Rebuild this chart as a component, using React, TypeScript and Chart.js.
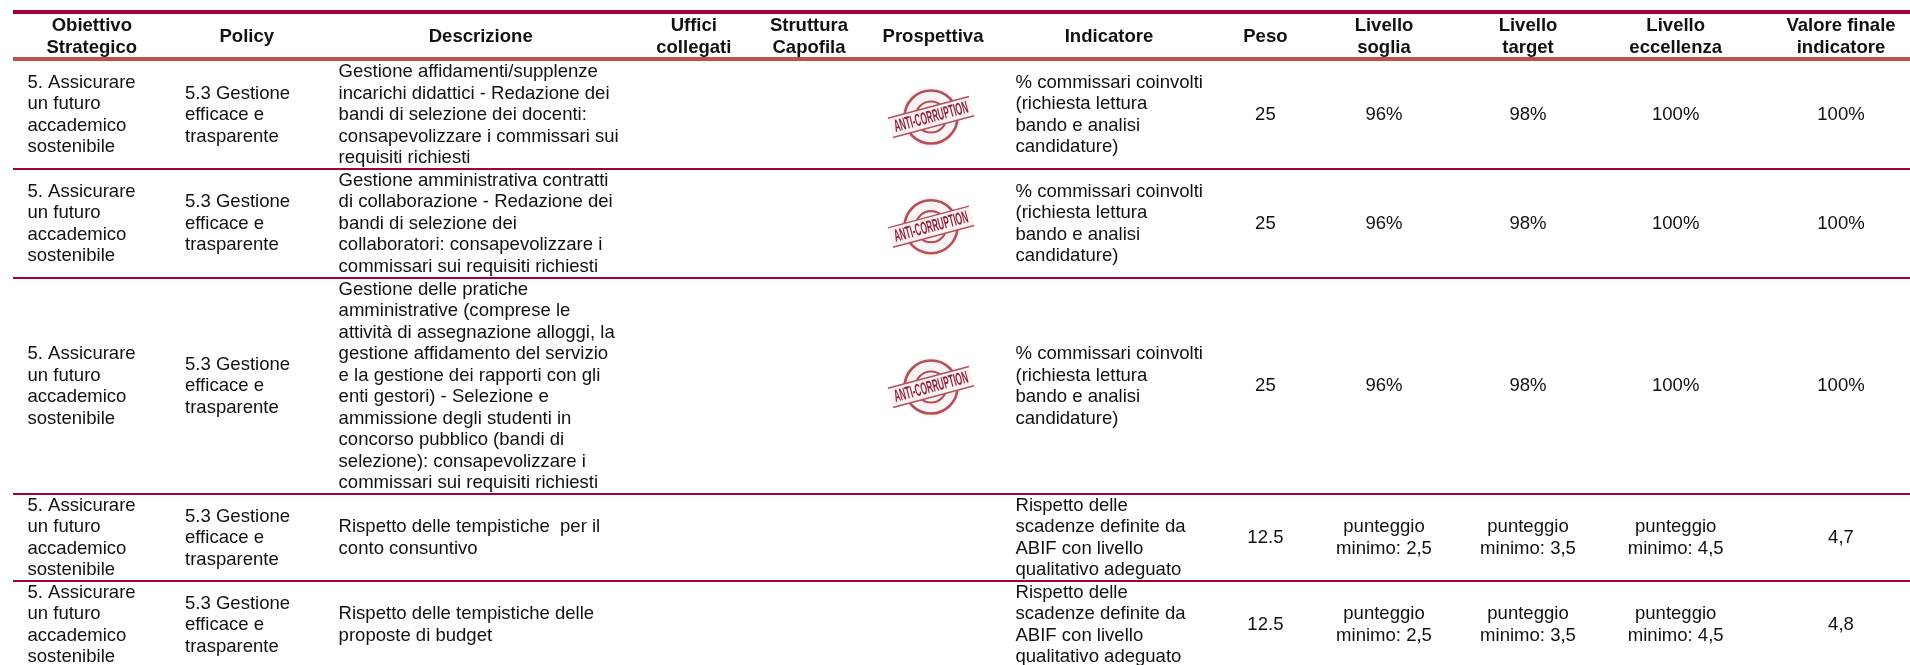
import React, { useEffect, useRef } from "react";
import { Chart, registerables } from "chart.js";

Chart.register(...registerables);

// ---- Table content ----
const headers = [
  "Obiettivo\nStrategico", "Policy", "Descrizione", "Uffici\ncollegati", "Struttura\nCapofila", "Prospettiva",
  "Indicatore", "Peso", "Livello\nsoglia", "Livello\ntarget", "Livello\neccellenza", "Valore finale\nindicatore",
];
const OBJ = "5. Assicurare\nun futuro\naccademico\nsostenibile";
const POL = "5.3 Gestione\nefficace e\ntrasparente";
const objectives = [OBJ, OBJ, OBJ, OBJ, OBJ];
const policies = [POL, POL, POL, POL, POL];
const descriptions = [
  "Gestione affidamenti/supplenze\nincarichi didattici - Redazione dei\nbandi di selezione dei docenti:\nconsapevolizzare i commissari sui\nrequisiti richiesti",
  "Gestione amministrativa contratti\ndi collaborazione - Redazione dei\nbandi di selezione dei\ncollaboratori: consapevolizzare i\ncommissari sui requisiti richiesti",
  "Gestione delle pratiche\namministrative (comprese le\nattività di assegnazione alloggi, la\ngestione affidamento del servizio\ne la gestione dei rapporti con gli\nenti gestori) - Selezione e\nammissione degli studenti in\nconcorso pubblico (bandi di\nselezione): consapevolizzare i\ncommissari sui requisiti richiesti",
  "Rispetto delle tempistiche  per il\nconto consuntivo",
  "Rispetto delle tempistiche delle\nproposte di budget",
];
const offices = ["", "", "", "", ""];
const leads = ["", "", "", "", ""];
const perspectives = ["ANTI-CORRUPTION", "ANTI-CORRUPTION", "ANTI-CORRUPTION", "", ""];
const IND_A = "% commissari coinvolti\n(richiesta lettura\nbando e analisi\ncandidature)";
const IND_B = "Rispetto delle\nscadenze definite da\nABIF con livello\nqualitativo adeguato";
const indicators = [IND_A, IND_A, IND_A, IND_B, IND_B];
const weights = ["25", "25", "25", "12.5", "12.5"];
const thresholds = ["96%", "96%", "96%", "punteggio\nminimo: 2,5", "punteggio\nminimo: 2,5"];
const targets = ["98%", "98%", "98%", "punteggio\nminimo: 3,5", "punteggio\nminimo: 3,5"];
const excellence = ["100%", "100%", "100%", "punteggio\nminimo: 4,5", "punteggio\nminimo: 4,5"];
const finals = ["100%", "100%", "100%", "4,7", "4,8"];

const bodyColumns = [objectives, policies, descriptions, offices, leads, perspectives, indicators, weights, thresholds, targets, excellence, finals];

// ---- Layout (axis units equal canvas pixels) ----
const HEADER_X = [91.8, 246.8, 480.7, 693.8, 809, 933, 1109, 1265.4, 1384, 1528, 1675.7, 1841];
const BODY_X = [27.5, 185, 338.6, 693.8, 809, 931, 1015.5, 1265.4, 1384, 1528, 1675.7, 1841];
const BODY_LEFT = [true, true, true, false, false, false, true, false, false, false, false, false];
const HEADER_Y = 37;
const ROW_Y = [115, 223.7, 386.3, 538, 625];
const STAMP_DY = [2, 3, 0.7, 0, 0];
const RULE_Y = [11.75, 59.25, 168.7, 277.7, 494, 580.8];
const RULE_W = [4, 4, 2, 2, 2, 2];
const RULE_C = ["#A50034", "#C0504D", "#A50034", "#A50034", "#A50034", "#A50034"];
const FONT = '"Liberation Sans", Arial, sans-serif';
const BODY_FONT = `18.55px ${FONT}`;
const HEAD_FONT = `bold 18.55px ${FONT}`;
const BODY_LH = 21.5;
const HEAD_LH = 22;
const INK = "#111";

function drawLines(ctx: CanvasRenderingContext2D, text: string, x: number, y: number, lh: number) {
  const lines = text.split("\n");
  lines.forEach((l, i) => ctx.fillText(l, x, y + (i - (lines.length - 1) / 2) * lh));
}

function drawStamp(ctx: CanvasRenderingContext2D, text: string, x: number, y: number) {
  const c = "rgb(176,82,92)";
  ctx.save();
  ctx.translate(x, y);
  ctx.filter = "blur(0.7px)";
  ctx.fillStyle = "rgba(238,215,215,0.30)";
  ctx.beginPath();
  ctx.arc(0, 0, 30, 0, Math.PI * 2);
  ctx.fill();
  ctx.strokeStyle = c;
  ctx.lineWidth = 2.6;
  ctx.beginPath();
  ctx.arc(0, 0, 26.5, 0, Math.PI * 2);
  ctx.stroke();
  ctx.lineWidth = 2.2;
  ctx.beginPath();
  ctx.arc(0, 0, 15.5, 0, Math.PI * 2);
  ctx.stroke();
  ctx.rotate((-15 * Math.PI) / 180);
  ctx.fillStyle = "#fbf1f1";
  ctx.fillRect(-42, -10, 84, 20);
  ctx.lineWidth = 1.4;
  ctx.beginPath();
  ctx.moveTo(-42, -10);
  ctx.lineTo(42, -10);
  ctx.moveTo(-42, 10);
  ctx.lineTo(42, 10);
  ctx.stroke();
  ctx.filter = "blur(0.35px)";
  ctx.fillStyle = "rgb(140,35,55)";
  ctx.font = `bold 17.5px ${FONT}`;
  ctx.textAlign = "center";
  ctx.textBaseline = "middle";
  const sx = 76 / ctx.measureText(text).width;
  ctx.save();
  ctx.scale(sx, 1);
  ctx.fillText(text, 0, 0.5);
  ctx.restore();
  ctx.restore();
}

const tablePlugin = {
  id: "tableCells",
  afterDatasetsDraw(chart: any) {
    const ctx: CanvasRenderingContext2D = chart.ctx;
    ctx.save();
    ctx.fillStyle = INK;
    ctx.textBaseline = "middle";
    const n = bodyColumns.length;
    // header dataset
    const head = chart.getDatasetMeta(n).data;
    ctx.font = HEAD_FONT;
    ctx.textAlign = "center";
    headers.forEach((h, i) => drawLines(ctx, h, head[i].x, head[i].y, HEAD_LH));
    // body datasets
    bodyColumns.forEach((col, c) => {
      const pts = chart.getDatasetMeta(c).data;
      col.forEach((t, r) => {
        if (!t) return;
        if (col === perspectives) {
          drawStamp(ctx, t, pts[r].x, pts[r].y + STAMP_DY[r]);
          ctx.fillStyle = INK;
          ctx.textBaseline = "middle";
          return;
        }
        ctx.font = BODY_FONT;
        ctx.textAlign = BODY_LEFT[c] ? "left" : "center";
        drawLines(ctx, t, pts[r].x, pts[r].y, BODY_LH);
      });
    });
    ctx.restore();
  },
};

export default function App() {
  const ref = useRef<HTMLCanvasElement>(null);
  useEffect(() => {
    const datasets: any[] = bodyColumns.map((col, c) => ({
      label: headers[c],
      data: col.map((_, r) => ({ x: BODY_X[c], y: ROW_Y[r] })),
      pointRadius: 0,
    }));
    datasets.push({
      label: "header",
      data: headers.map((_, i) => ({ x: HEADER_X[i], y: HEADER_Y })),
      pointRadius: 0,
    });
    const chart = new Chart(ref.current!, {
      type: "scatter",
      data: { datasets },
      plugins: [tablePlugin],
      options: {
        animation: false,
        responsive: false,
        layout: { padding: { left: 13, right: 0, top: 0, bottom: 0 } },
        plugins: { legend: { display: false }, tooltip: { enabled: false }, title: { display: false } },
        events: [],
        scales: {
          x: { type: "linear", min: 13, max: 1910, display: false },
          y: {
            type: "linear",
            min: 0,
            max: 665,
            reverse: true,
            position: "left",
            afterBuildTicks: (s: any) => {
              s.ticks = RULE_Y.map((value) => ({ value }));
            },
            ticks: { display: false },
            border: { display: false },
            grid: {
              drawTicks: false,
              color: (ctx: any) => RULE_C[ctx.index] ?? "transparent",
              lineWidth: (ctx: any) => RULE_W[ctx.index] ?? 0,
            },
          },
        },
      } as any,
    });
    return () => chart.destroy();
  }, []);
  return (
    <div style={{ position: "fixed", left: 0, top: 0, width: 1910, height: 665, background: "#fff" }}>
      <canvas ref={ref} width={1910} height={665} style={{ display: "block" }} />
    </div>
  );
}
